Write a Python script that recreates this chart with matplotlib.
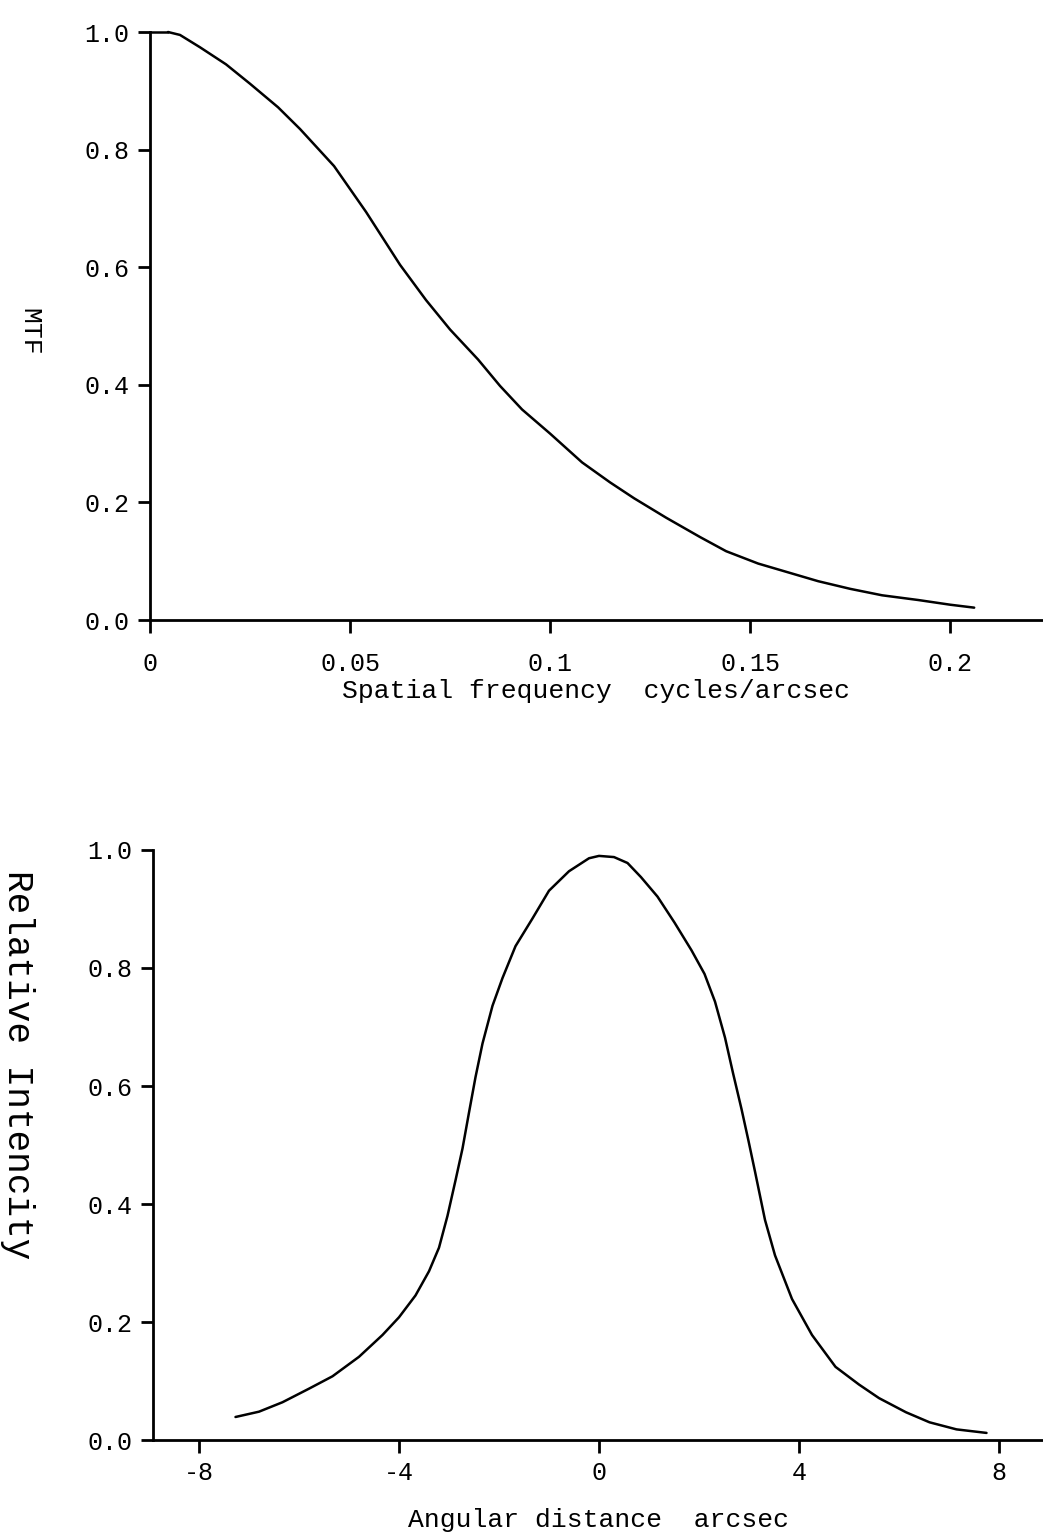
import matplotlib
matplotlib.use("Agg")
import matplotlib.pyplot as plt

plt.rcParams['font.family'] = ['Liberation Mono', 'DejaVu Sans Mono']

# MTF curve (top panel)
freq = [0.0045, 0.0075, 0.0125, 0.019, 0.025, 0.032, 0.0375, 0.046, 0.054,
        0.0625, 0.069, 0.075, 0.082, 0.0875, 0.093, 0.1, 0.108, 0.115, 0.121,
        0.129, 0.1375, 0.144, 0.152, 0.158, 0.167, 0.175, 0.183, 0.192, 0.200, 0.206]
mtf = [1.0, 0.995, 0.974, 0.945, 0.912, 0.872, 0.835, 0.772, 0.694,
       0.604, 0.544, 0.494, 0.443, 0.398, 0.358, 0.317, 0.268, 0.234, 0.207,
       0.174, 0.141, 0.117, 0.096, 0.084, 0.066, 0.053, 0.042, 0.034, 0.026, 0.021]

# relative intensity profile (bottom panel)
dist = [-7.27, -6.8, -6.33, -5.8, -5.33, -4.8, -4.33, -4.0, -3.67, -3.4, -3.2,
        -3.03, -2.87, -2.73, -2.6, -2.47, -2.33, -2.13, -1.93, -1.67, -1.33,
        -1.0, -0.6, -0.2, 0.0, 0.3, 0.57, 0.84, 1.17, 1.51, 1.85, 2.11, 2.32,
        2.52, 2.68, 2.85, 2.99, 3.12, 3.32, 3.52, 3.86, 4.26, 4.73, 5.2, 5.6,
        6.14, 6.61, 7.15, 7.75]
inten = [0.039, 0.048, 0.064, 0.087, 0.108, 0.141, 0.178, 0.208, 0.245, 0.286, 0.326,
         0.380, 0.440, 0.494, 0.555, 0.615, 0.672, 0.736, 0.783, 0.837, 0.884,
         0.931, 0.964, 0.986, 0.990, 0.988, 0.978, 0.954, 0.921, 0.877, 0.830, 0.790, 0.743,
         0.682, 0.622, 0.561, 0.507, 0.455, 0.373, 0.313, 0.239, 0.178, 0.124, 0.094, 0.071,
         0.047, 0.030, 0.018, 0.012]

freq_ticks = [0, 0.05, 0.1, 0.15, 0.2]
freq_labels = ["0", "0.05", "0.1", "0.15", "0.2"]
dist_ticks = [-8, -4, 0, 4, 8]
dist_labels = ["-8", "-4", "0", "4", "8"]
y_ticks = [0.0, 0.2, 0.4, 0.6, 0.8, 1.0]
y_labels = ["0.0", "0.2", "0.4", "0.6", "0.8", "1.0"]

fig = plt.figure(figsize=(10.43, 15.37), dpi=100)

W, H = 1043.0, 1537.0
ax1 = fig.add_axes([150 / W, 1 - 620 / H, 893 / W, 588 / H])
ax2 = fig.add_axes([153 / W, 1 - 1440 / H, 890 / W, 590 / H])


def style(ax, xpad):
    for s in ["top", "right"]:
        ax.spines[s].set_visible(False)
    for s in ["left", "bottom"]:
        ax.spines[s].set_linewidth(2.0)
    ax.tick_params(axis="both", direction="out", width=2.0, labelsize=18, color="black")
    ax.tick_params(axis="x", length=9, pad=xpad)
    ax.tick_params(axis="y", length=9, pad=6)
    ax.set_yticks(y_ticks)
    ax.set_yticklabels(y_labels)
    ax.set_ylim(0, 1.0)


line_kw = dict(color="black", linewidth=1.8, clip_on=False,
               solid_joinstyle="round", solid_capstyle="round")

ax1.plot(freq, mtf, **line_kw)
ax1.plot([0, freq[0]], [1.0, mtf[0]], **line_kw)
style(ax1, 14)
ax1.set_xlim(0, 0.2232)
ax1.set_xticks(freq_ticks)
ax1.set_xticklabels(freq_labels)
ax1.set_xlabel("Spatial frequency  cycles/arcsec", fontsize=19, labelpad=2)

ax2.plot(dist, inten, **line_kw)
style(ax2, 6)
ax2.set_xlim(-8.92, 8.88)
ax2.set_xticks(dist_ticks)
ax2.set_xticklabels(dist_labels)
ax2.set_xlabel("Angular distance  arcsec", fontsize=19, labelpad=17)

fig.text(29 / W, 1 - 332 / H, "MTF", rotation=-90, fontsize=19,
         ha="center", va="center")
fig.text(17 / W, 1 - 1065 / H, "Relative Intencity", rotation=-90, fontsize=26,
         ha="center", va="center")

fig.savefig("out.png", dpi=100)
